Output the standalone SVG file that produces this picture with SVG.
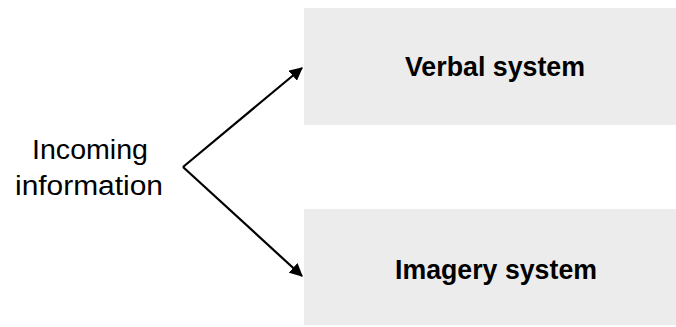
<svg xmlns="http://www.w3.org/2000/svg" width="676" height="327" viewBox="0 0 676 327">
<defs>
<style>
.box{fill:#ececec;}
.lbl{font-family:"Liberation Sans",Arial,sans-serif;font-size:27px;font-weight:bold;fill:#000;text-anchor:middle;}
.src{font-family:"Liberation Sans",Arial,sans-serif;font-size:27px;fill:#000;text-anchor:middle;}
.conn{stroke:#000;stroke-width:2.2;fill:none;}
</style>
<marker id="ah" markerWidth="6" markerHeight="6" refX="5.5" refY="3" orient="auto" markerUnits="strokeWidth">
<path d="M0,0 L6,3 L0,6 Z" fill="#000"/>
</marker>
</defs>
<g id="verbal">
<rect class="box" x="304" y="8" width="372" height="117"/>
<text class="lbl" x="495" y="76" textLength="180" lengthAdjust="spacingAndGlyphs">Verbal system</text>
</g>
<g id="imagery">
<rect class="box" x="304" y="209" width="372" height="116"/>
<text class="lbl" x="496" y="279" textLength="202" lengthAdjust="spacingAndGlyphs">Imagery system</text>
</g>
<g id="incoming">
<text class="src" x="90" y="159" textLength="116" lengthAdjust="spacingAndGlyphs">Incoming</text>
<text class="src" x="89" y="195" textLength="148" lengthAdjust="spacingAndGlyphs">information</text>
</g>
<g id="connectors">
<line class="conn" x1="183" y1="167" x2="302" y2="68" marker-end="url(#ah)"/>
<line class="conn" x1="183" y1="167" x2="302" y2="276" marker-end="url(#ah)"/>
</g>
</svg>
